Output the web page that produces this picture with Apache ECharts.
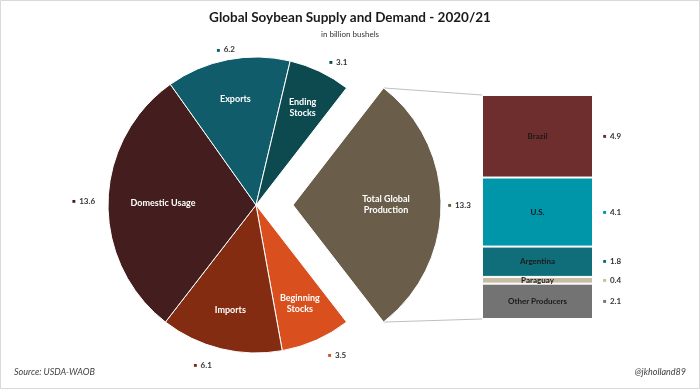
<!DOCTYPE html>
<html><head><meta charset="utf-8">
<script src="https://cdn.jsdelivr.net/npm/echarts@6/dist/echarts.min.js"></script>
<style>html,body{margin:0;padding:0;background:#fff}#c{width:700px;height:389px}</style>
</head><body><div id="c"></div>
<script>
const pieNames = ['Total Global Production','Beginning Stocks','Imports','Domestic Usage','Exports','Ending Stocks'];
const pieLabels = ['Total Global\nProduction','Beginning\nStocks','Imports','Domestic Usage','Exports','Ending\nStocks'];
const pieValues = [13.3, 3.5, 6.1, 13.6, 6.2, 3.1];
const pieColors = ['#6a5e4a','#d94f1e','#832c12','#441e1e','#115c6a','#0d4a50'];
const barNames = ['Brazil','U.S.','Argentina','Paraguay','Other Producers'];
const barValues = [4.9, 4.1, 1.8, 0.4, 2.1];
const barColors = ['#6e2e2e','#0096a9','#0f6e7a','#c8bca4','#737373'];

const FONT = 'Lato';
const chart = echarts.init(document.getElementById('c'), null, {renderer:'canvas'});
const total = pieValues.reduce((a,b)=>a+b,0);
const barTotal = barValues.reduce((a,b)=>a+b,0);
const startAngle = 180 * pieValues[0] / total;
const PCX = 256, PCY = 205, PR = 148, OFFSET = 37;
const GL = 482, GW = 111, GT = 95, GB = 70;
// label line lengths / offsets per slice (style only)
const outLen = [2, 17, 17, 8, 10, 10];
const outOff = [[0,0],[0,0],[0,0],[0,0],[14,0],[0,0]];

const rich = {v:{fontFamily:FONT,fontSize:8,fontWeight:'bold',color:'#333'}};
pieColors.forEach((c,i)=>{rich['q'+i]={fontSize:6,color:c};});
const barRich = {v:{fontFamily:FONT,fontSize:8,fontWeight:'bold',color:'#333'}};
barColors.forEach((c,i)=>{barRich['q'+i]={fontSize:6,color:c};});

const series = [];
series.push({
  type:'pie', center:[PCX,PCY], radius:PR, startAngle, clockwise:true,
  selectedMode:'single', selectedOffset:OFFSET, avoidLabelOverlap:false,
  animation:false, silent:true,
  itemStyle:{borderColor:'#fff',borderWidth:1},
  label:{position:'outside', formatter:p=>'{q'+p.dataIndex+'|■} {v|'+p.value+'}', rich},
  labelLine:{show:false,length:10,length2:0},
  emphasis:{disabled:true},
  data: pieNames.map((n,i)=>({name:n,value:pieValues[i],selected:i===0,
    label:{offset:outOff[i]}, labelLine:{show:false,length:outLen[i],length2:0},
    itemStyle:{color:pieColors[i]}, select:{itemStyle:{color:pieColors[i]}}}))
});
// inside name labels: big slices closer to centre
const bigSlice = pieValues.map(v=>v/total > 0.25);
[[true, 32],[false, 62]].forEach(([big, r0])=>{
  series.push({
    type:'pie', center:[PCX,PCY], radius:[r0,PR], startAngle, clockwise:true,
    selectedMode:'single', selectedOffset:OFFSET, avoidLabelOverlap:false,
    animation:false, silent:true,
    itemStyle:{color:'rgba(0,0,0,0)'},
    label:{position:'inside', formatter:p=>(bigSlice[p.dataIndex]===big ? pieLabels[p.dataIndex] : ''), color:'#fff',
      fontFamily:FONT, fontSize:9, fontWeight:'bold', lineHeight:11},
    labelLine:{show:false},
    emphasis:{disabled:true},
    data: pieNames.map((n,i)=>({name:n,value:pieValues[i],selected:i===0,
      itemStyle:{color:'rgba(0,0,0,0)'}, select:{itemStyle:{color:'rgba(0,0,0,0)'}}}))
  });
});
barNames.forEach((n,i)=>{
  series.push({type:'bar', name:n, stack:'a', barWidth:'100%', barGap:'-100%', animation:false, silent:true,
    itemStyle:{color:barColors[i], borderColor:'#fff', borderWidth:1},
    label:{show:true, position:'inside', formatter:n, color:'#1a1a1a', fontFamily:FONT, fontSize:8, fontWeight:'bold'},
    data:[barValues[i]]});
});
barNames.forEach((n,i)=>{
  series.push({type:'bar', name:n+' v', stack:'b', barWidth:'100%', barGap:'-100%', animation:false, silent:true,
    itemStyle:{color:'rgba(0,0,0,0)'},
    label:{show:true, position:'right', distance:10, formatter:'{q'+i+'|■} {v|'+barValues[i]+'}', rich:barRich},
    data:[barValues[i]]});
});

chart.setOption({
  animation:false,
  title:{text:'Global Soybean Supply and Demand - 2020/21', subtext:'in billion bushels', left:'center', top:6, itemGap:5,
    textStyle:{fontFamily:FONT,fontSize:13.5,fontWeight:'bold',color:'#1a1a1a'},
    subtextStyle:{fontFamily:FONT,fontSize:8,color:'#333'}},
  grid:{left:GL, width:GW, top:GT, bottom:GB},
  xAxis:{type:'category', data:['Production'], show:false},
  yAxis:{type:'value', inverse:true, min:0, max:barTotal, show:false},
  series
});

// connector lines from exploded slice edges to the bar
const half = Math.PI * pieValues[0] / total;
const cx = PCX + OFFSET;
const pTop = [cx + PR*Math.cos(half), PCY - PR*Math.sin(half)];
const pBot = [cx + PR*Math.cos(half), PCY + PR*Math.sin(half)];
const yTop = chart.convertToPixel({gridIndex:0},[0,0])[1];
const yBot = chart.convertToPixel({gridIndex:0},[0,barTotal])[1];
chart.setOption({graphic:[
  {type:'rect', shape:{x:0.5,y:0.5,width:699,height:388}, style:{fill:'none',stroke:'#d9d9d9',lineWidth:1}, silent:true},
  {type:'line', shape:{x1:pTop[0],y1:pTop[1],x2:GL,y2:yTop}, style:{stroke:'#bfbfbf',lineWidth:1}, silent:true},
  {type:'line', shape:{x1:pBot[0],y1:pBot[1],x2:GL,y2:yBot}, style:{stroke:'#bfbfbf',lineWidth:1}, silent:true},
  {type:'text', left:14, top:368, style:{text:'Source: USDA-WAOB', font:'italic 9px '+FONT, fill:'#404040'}, silent:true},
  {type:'text', right:14, top:368, style:{text:'@jkholland89', font:'italic 9px '+FONT, fill:'#404040'}, silent:true}
]});
</script></body></html>
